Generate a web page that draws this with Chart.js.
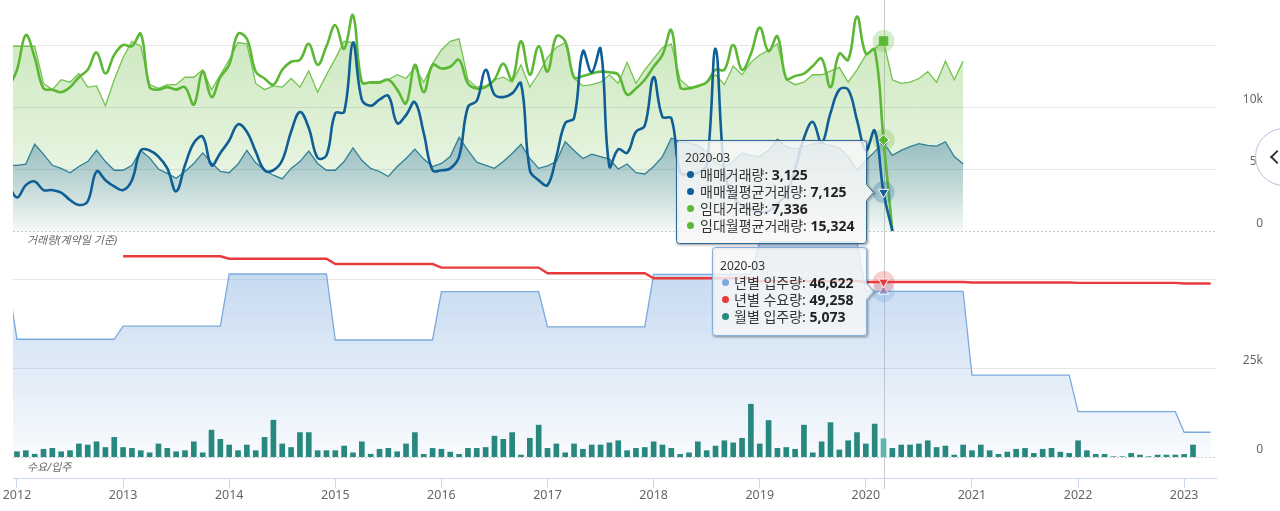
<!DOCTYPE html>
<html lang="ko">
<head>
<meta charset="utf-8">
<title>거래량 · 수요/입주</title>
<script src="https://cdn.jsdelivr.net/npm/chart.js@4.4.1/dist/chart.umd.min.js"></script>
<style>
html,body{margin:0;padding:0;background:#fff;}
body{width:1280px;height:511px;overflow:hidden;font-family:"Noto Sans","Noto Sans CJK KR",sans-serif;}
#wrap{position:relative;width:1280px;height:511px;overflow:hidden;}
#chart{position:absolute;left:0;top:0;}
.pane-title{position:absolute;left:27px;font-size:11px;font-style:italic;color:#666;line-height:14px;white-space:nowrap;}
#tipLayer{position:absolute;left:0;top:0;pointer-events:none;}
#tipText{position:absolute;left:0;top:0;}
.tip-line{position:absolute;white-space:nowrap;color:#333;font-size:14px;line-height:17px;height:17px;}
.tip-line.head{font-size:12px;}
.tip-line b{font-weight:700;color:#222;}
.dot{position:absolute;width:7px;height:7px;border-radius:50%;}
.nav-btn{position:absolute;left:1255px;top:128px;width:58px;height:58px;box-sizing:border-box;border:1px solid #b9c0dc;border-radius:50%;background:#fff;}
.nav-btn::before{content:"";position:absolute;left:16px;top:23px;width:10px;height:10px;box-sizing:border-box;border-left:2px solid #333;border-bottom:2px solid #333;transform:rotate(45deg);}
</style>
</head>
<body>
<div id="wrap">
  <canvas id="chart" width="1280" height="511"></canvas>
  <div class="pane-title" style="top:233px">거래량(계약일 기준)</div>
  <div class="pane-title" style="top:460px">수요/입주</div>
  <svg id="tipLayer" width="1280" height="511" xmlns="http://www.w3.org/2000/svg"></svg>
  <div id="tipText"></div>
  <div class="nav-btn"></div>
</div>
<script>
// x values are month indexes: 0 = 2012-01, -1 = 2011-12
const yearLabels = ['2012','2013','2014','2015','2016','2017','2018','2019','2020','2021','2022','2023'];
const HOVER_X = 98; // 2020-03

// 매매거래량, 2011-12 .. 2020-04
const saleVolume = [3800,
  2700,3700,4000,3300,3300,3100,2500,2100,2400,4800,4100,3600,
  3300,4100,6500,6500,6000,5050,3200,5300,7100,7600,5300,6300,
  7300,8600,8000,6400,4900,4900,5700,8000,9600,8300,5900,6100,
  9500,9600,15200,10600,10100,10600,10900,8700,9350,10400,7900,4900,
  4900,5050,6000,10000,10500,13000,11000,10800,11100,11900,4900,4100,
  3700,6000,8700,9100,14500,12800,14700,5200,6600,6300,8000,8500,
  12400,9200,9100,4700,4600,4700,5300,14700,4800,2800,2000,1800,
  1500,1600,2200,3000,5000,7500,8800,7100,9500,11400,11400,8950,
  6500,8100,3125,0];

// 매매월평균거래량, 2011-12 .. 2020-12
const saleMonthlyAvg = [5300,
  5300,5400,7000,6200,5300,5050,4700,5200,5600,6500,5600,4900,
  4900,5300,6500,5900,5000,4650,4250,4800,5450,6300,5500,4800,
  4700,5400,6500,5500,4900,4500,4200,5050,5600,6450,5450,4900,
  4900,5600,6700,5700,5050,4800,4400,5200,5850,6600,5800,5200,
  5450,6000,7550,6500,5550,5300,5050,5600,6250,7000,5850,5050,
  5250,5600,7200,6500,5850,6200,6000,5800,5000,5400,4700,4600,
  5200,6000,7500,7200,7100,6900,6400,5500,5200,5600,6300,6100,
  6000,6500,7400,6800,6600,6800,7000,7100,6900,6700,6000,4900,
  5700,6400,7125,6100,6500,6800,7050,6900,6850,7200,6000,5400];

// 임대거래량, 2011-12 .. 2020-04
const rentVolume = [11500,
  13000,15800,14000,11500,11400,11200,11600,12400,13000,14400,12700,14200,
  15000,14900,15900,11600,11400,11600,11400,11600,10200,12850,10800,12400,
  13400,15900,15500,12850,12300,11800,13000,13650,13800,15100,13400,14900,
  16600,14700,17400,12000,12000,12000,12200,11400,10300,13400,11200,13400,
  13100,13250,13800,11900,11500,11600,12200,13500,12200,15300,12600,14900,
  12850,15700,15300,12400,12500,12700,12850,12800,12600,11000,11500,12200,
  13250,14200,16200,11600,11500,11700,12000,13000,13000,15000,13000,14300,
  16400,14500,15700,12300,12500,12700,13300,13900,11600,14300,13800,17300,
  14300,14650,7336,0];

// 임대월평균거래량, 2011-12 .. 2020-12
const rentMonthlyAvg = [14900,
  14900,14900,14900,11900,11400,12200,12000,12700,11600,11700,10100,12200,
  14000,15300,14900,11800,11500,11800,11800,12400,12400,13000,11400,12600,
  13800,15200,15100,11900,11400,11700,11600,12300,11600,12900,11200,12600,
  13900,15300,15200,12000,11900,11900,12200,12600,12300,13200,12000,13500,
  14600,15300,15500,12200,11600,11700,12200,12400,12000,13400,11600,12700,
  14000,14800,15200,12300,11700,11800,12000,12600,11900,13600,11900,13000,
  13900,14800,15100,12200,11600,11600,12000,12600,11800,13300,12600,13600,
  14200,14600,15100,12200,11800,12000,12600,12600,12900,13200,12000,13000,
  14200,14700,15324,12200,11900,12000,12300,12850,12000,13700,12200,13700];

// 년별 입주량 (2011 .. 2023)
const supplyYears = [2011,2012,2013,2014,2015,2016,2017,2018,2019,2020,2021,2022,2023];
const supplyYearly = [49400,33100,36800,51500,32900,46500,36600,51400,60600,46622,23000,12700,6900];

// 년별 수요량 (2013 .. 2023)
const demandYears = [2013,2014,2015,2016,2017,2018,2019,2020,2021,2022,2023];
const demandYearly = [56500,55800,54300,53300,51700,50300,49500,49258,49100,49000,48800];

// 월별 입주량, 2012-01 .. 2023-02
const supplyMonthly = [
  1400,1700,700,2100,2350,1400,1700,3600,3300,4200,2600,5450,
  2600,2350,1700,1100,3600,2350,1400,1700,4200,1100,7500,4900,
  3300,1700,3300,1700,5450,10300,3600,2600,6800,6800,1700,1700,
  1700,3000,1100,4200,700,2100,2350,1400,3600,6800,660,2350,
  2100,1300,660,2350,2350,2600,5800,4900,6800,470,5200,8900,
  2350,3600,1100,3600,2100,3300,3300,3900,4500,1700,2350,2600,
  4200,3300,2350,660,1100,4200,1700,3000,4500,3900,5200,14800,
  3600,10200,2350,2600,2100,8900,1100,4200,9600,1900,4500,6800,
  3600,9200,5073,2350,3300,3300,3600,4500,2600,3000,470,3300,
  1700,3300,1700,660,1300,2100,2350,940,2100,2350,1300,940,
  4500,1700,660,660,0,0,940,470,0,470,470,470,
  660,3300];

const topTicks = [0, 5000, 10000, 15000];
const topTickLabels = ['0', '5k', '10k', ''];
const bottomTicks = [0, 25000, 50000];
const bottomTickLabels = ['0', '25k', ''];

// ---- layout of the two panes (both value axes span the full plot height) ----
const TOP_RANGE = { min: -19920, max: 18630 };
const BOTTOM_RANGE = { min: -6000, max: 128720 };
// express a lower-pane value in upper-axis units (same pixel row)
const toTopUnits = (v) => TOP_RANGE.min +
  (v - BOTTOM_RANGE.min) / (BOTTOM_RANGE.max - BOTTOM_RANGE.min) * (TOP_RANGE.max - TOP_RANGE.min);
const axisTickValues = topTicks.concat(bottomTicks.map(toTopUnits));
const axisTickLabels = topTickLabels.concat(bottomTickLabels);
const zeroTickValues = [0, toTopUnits(0)];

// ---- helpers ----
const FONT = '"Noto Sans","Noto Sans CJK KR",sans-serif';
Chart.defaults.font.family = FONT;

const pts = (values, start) => values.map((v, k) => ({ x: start + k, y: v }));
function yearlyToMonthly(years, values, from, to) {
  const out = [];
  for (let i = from; i <= to; i++) {
    const yr = 2012 + Math.floor(i / 12);
    out.push({ x: i, y: values[years.indexOf(yr)] });
  }
  return out;
}
function monthLabel(i) {
  const y = 2012 + Math.floor(i / 12);
  const m = ((i % 12) + 12) % 12 + 1;
  return y + '-' + String(m).padStart(2, '0');
}
const atHover = (r) => (ctx) => (ctx.raw && ctx.raw.x === HOVER_X ? r : 0);

function vGrad(chart, scaleId, fromVal, toVal, rgb, stops) {
  const s = chart.scales[scaleId];
  if (!chart.chartArea || !s) return 'rgba(' + rgb + ',' + stops[0][1] + ')';
  const g = chart.ctx.createLinearGradient(0, s.getPixelForValue(fromVal), 0, s.getPixelForValue(toVal));
  stops.forEach(([o, a]) => g.addColorStop(o, 'rgba(' + rgb + ',' + a + ')'));
  return g;
}

const C = {
  sale: '#0f5e96',
  saleAvgLine: '#2f8097',
  saleFill: '14,92,148',
  rent: '#5cb834',
  rentAvgLine: '#74c350',
  rentFill: '100,185,60',
  supply: '#7caade',
  supplyFill: '124,170,222',
  demand: '#e93b3b',
  bar: '#27887f',
  barHover: '#5fb6ad'
};

// halo behind the hovered markers
const hoverHalo = {
  id: 'hoverHalo',
  beforeDatasetDraw(chart, args) {
    const ds = chart.data.datasets[args.index];
    if (!ds.haloColor) return;
    const k = ds.data.findIndex(p => p.x === HOVER_X);
    const el = args.meta.data[k];
    if (!el) return;
    const c = chart.ctx;
    c.save();
    c.fillStyle = ds.haloColor;
    c.beginPath();
    c.arc(el.x, el.y, 11, 0, Math.PI * 2);
    c.fill();
    c.restore();
  }
};

// crosshair and dotted zero lines
const guides = {
  id: 'guides',
  beforeDatasetsDraw(chart) {
    const { ctx, chartArea: a } = chart;
    ctx.save();
    ctx.lineWidth = 1;
    ctx.strokeStyle = '#c9c9c9';
    ctx.setLineDash([2, 2]);
    ['yT', 'yB'].forEach(id => {
      const y = Math.round(chart.scales[id].getPixelForValue(0)) + 0.5;
      ctx.beginPath(); ctx.moveTo(a.left, y); ctx.lineTo(a.right, y); ctx.stroke();
    });
    ctx.setLineDash([]);
    const x = Math.round(chart.scales.x.getPixelForValue(HOVER_X)) + 0.5;
    ctx.strokeStyle = '#cccccc';
    ctx.beginPath(); ctx.moveTo(x, a.top); ctx.lineTo(x, a.bottom + 11); ctx.stroke();
    ctx.restore();
  }
};

// value-axis labels, right aligned, sitting just above their grid lines
const paneLabels = {
  id: 'paneLabels',
  afterDraw(chart) {
    const s = chart.scales.yT;
    const ctx = chart.ctx;
    ctx.save();
    ctx.font = '12px ' + FONT;
    ctx.fillStyle = '#666';
    ctx.textAlign = 'right';
    ctx.textBaseline = 'middle';
    s.ticks.forEach((t, i) => {
      const label = axisTickLabels[i];
      if (!label) return;
      ctx.fillText(label, chart.chartArea.right + 47, s.getPixelForValue(t.value) - 7);
    });
    ctx.restore();
  }
};

const gridColor = (ctx) => (ctx.tick && zeroTickValues.includes(ctx.tick.value) ? 'rgba(0,0,0,0)' : '#e6e6e6');

const chart = new Chart(document.getElementById('chart'), {
  type: 'line',
  data: {
    datasets: [
      {
        label: '매매거래량', data: pts(saleVolume, -1), yAxisID: 'yT', xAxisID: 'x',
        borderColor: C.sale, borderWidth: 2.6, tension: 0.4, fill: false,
        pointRadius: atHover(5.8), pointStyle: 'triangle', pointRotation: 180,
        pointBackgroundColor: C.sale, pointBorderColor: '#fff', pointBorderWidth: 1,
        haloColor: 'rgba(15,94,150,0.25)', order: 1
      },
      {
        label: '임대거래량', data: pts(rentVolume, -1), yAxisID: 'yT', xAxisID: 'x',
        borderColor: C.rent, borderWidth: 2.6, tension: 0.4, fill: false,
        pointRadius: atHover(5.4), pointStyle: 'rectRot',
        pointBackgroundColor: C.rent, pointBorderColor: '#fff', pointBorderWidth: 1,
        haloColor: 'rgba(92,184,52,0.25)', order: 2
      },
      {
        label: '매매월평균거래량', data: pts(saleMonthlyAvg, -1), yAxisID: 'yT', xAxisID: 'x',
        borderColor: C.saleAvgLine, borderWidth: 1.3, tension: 0,
        fill: { value: 0 },
        backgroundColor: (ctx) => vGrad(ctx.chart, 'yT', 7600, 0, C.saleFill, [[0, 0.36], [0.5, 0.2], [1, 0.02]]),
        pointRadius: atHover(4), pointStyle: 'circle',
        pointBackgroundColor: C.sale, pointBorderColor: '#fff', pointBorderWidth: 1,
        order: 3
      },
      {
        label: '임대월평균거래량', data: pts(rentMonthlyAvg, -1), yAxisID: 'yT', xAxisID: 'x',
        borderColor: C.rentAvgLine, borderWidth: 1.3, tension: 0,
        fill: { value: 0 },
        backgroundColor: (ctx) => vGrad(ctx.chart, 'yT', 18630, 0, C.rentFill, [[0, 0.36], [0.6, 0.2], [1, 0.04]]),
        pointRadius: atHover(6), pointStyle: 'rect',
        pointBackgroundColor: C.rent, pointBorderColor: C.rent, pointBorderWidth: 1,
        haloColor: 'rgba(92,184,52,0.25)', order: 4
      },
      {
        label: '년별 수요량', data: yearlyToMonthly(demandYears, demandYearly, 12, 135), yAxisID: 'yB', xAxisID: 'x',
        borderColor: C.demand, borderWidth: 2.4, tension: 0, fill: false,
        pointRadius: atHover(5.8), pointStyle: 'triangle', pointRotation: 180,
        pointBackgroundColor: C.demand, pointBorderColor: '#fff', pointBorderWidth: 1,
        haloColor: 'rgba(233,59,59,0.25)', order: 5
      },
      {
        type: 'bar', label: '월별 입주량', data: pts(supplyMonthly, 0), yAxisID: 'yB', xAxisID: 'x',
        backgroundColor: (ctx) => (ctx.raw && ctx.raw.x === HOVER_X ? C.barHover : C.bar),
        barThickness: 5, borderWidth: 0, order: 6
      },
      {
        label: '년별 입주량', data: yearlyToMonthly(supplyYears, supplyYearly, -1, 135), yAxisID: 'yB', xAxisID: 'x',
        borderColor: C.supply, borderWidth: 1.3, tension: 0,
        fill: { value: 0 },
        backgroundColor: (ctx) => vGrad(ctx.chart, 'yB', 61000, 0, C.supplyFill, [[0, 0.5], [1, 0.05]]),
        pointRadius: atHover(5.8), pointStyle: 'triangle',
        pointBackgroundColor: C.supply, pointBorderColor: '#fff', pointBorderWidth: 1,
        haloColor: 'rgba(124,170,222,0.3)', order: 7
      }
    ]
  },
  options: {
    responsive: false,
    animation: false,
    devicePixelRatio: 1,
    events: [],
    layout: { padding: { left: 13, right: 0, top: 0, bottom: 0 }, autoPadding: false },
    plugins: { legend: { display: false }, tooltip: { enabled: false } },
    scales: {
      x: {
        type: 'linear', position: 'bottom', min: -0.45, max: 135.6, offset: false, bounds: 'data',
        afterBuildTicks: (s) => { s.ticks = yearLabels.map((_, k) => ({ value: k * 12 })); },
        afterFit: (s) => { s.height = 33; s.paddingLeft = 0; s.paddingRight = 0; },
        grid: { display: true, drawOnChartArea: false, drawTicks: true, tickLength: 10, tickColor: '#ccd6eb', offset: false },
        border: { display: true, color: '#ccd6eb', width: 1 },
        ticks: {
          autoSkip: false, maxRotation: 0, minRotation: 0, padding: 0, color: '#666',
          font: { size: 12.5 },
          callback: (v, i) => yearLabels[i]
        }
      },
      yT: {
        type: 'linear', position: 'right', min: TOP_RANGE.min, max: TOP_RANGE.max, bounds: 'data',
        afterBuildTicks: (s) => { s.ticks = axisTickValues.map(v => ({ value: v })); },
        afterFit: (s) => { s.width = 64; s.paddingTop = 0; s.paddingBottom = 0; },
        grid: { color: gridColor, drawTicks: false },
        border: { display: false },
        ticks: { display: false }
      },
      yB: {
        type: 'linear', position: 'right', min: BOTTOM_RANGE.min, max: BOTTOM_RANGE.max, bounds: 'data',
        display: false
      }
    }
  },
  plugins: [guides, hoverHalo, paneLabels]
});

// ---- hover tooltips (callout boxes with text) ----
function valueAt(label) {
  const ds = chart.data.datasets.find(d => d.label === label);
  return ds.data.find(p => p.x === HOVER_X).y;
}
function calloutPath(l, t, w, h, ny) {
  const r = 3, R = l + w, B = t + h;
  return 'M' + (l + r) + ',' + t + ' H' + (R - r) + ' Q' + R + ',' + t + ' ' + R + ',' + (t + r) +
    ' V' + (ny - 8) + ' L' + (R + 7) + ',' + ny + ' L' + R + ',' + (ny + 8) +
    ' V' + (B - r) + ' Q' + R + ',' + B + ' ' + (R - r) + ',' + B +
    ' H' + (l + r) + ' Q' + l + ',' + B + ' ' + l + ',' + (B - r) +
    ' V' + (t + r) + ' Q' + l + ',' + t + ' ' + (l + r) + ',' + t + ' Z';
}
function buildTip(cfg) {
  const svg = document.getElementById('tipLayer');
  const layer = document.getElementById('tipText');
  const l = Math.round(cfg.left) + 0.5, t = Math.round(cfg.top) + 0.5;
  const ny = Math.round(cfg.notchY) + 0.5;
  const d = calloutPath(l, t, cfg.width, cfg.height, ny);
  const ns = 'http://www.w3.org/2000/svg';
  [[5, 0.05], [3, 0.1], [1, 0.15]].forEach(([w, a]) => {
    const p = document.createElementNS(ns, 'path');
    p.setAttribute('d', d);
    p.setAttribute('fill', 'none');
    p.setAttribute('stroke', 'rgba(0,0,0,' + a + ')');
    p.setAttribute('stroke-width', w);
    p.setAttribute('transform', 'translate(1,1)');
    svg.appendChild(p);
  });
  const main = document.createElementNS(ns, 'path');
  main.setAttribute('d', d);
  main.setAttribute('fill', 'rgba(247,247,247,0.82)');
  main.setAttribute('stroke', cfg.border);
  main.setAttribute('stroke-width', 1);
  svg.appendChild(main);

  const head = document.createElement('div');
  head.className = 'tip-line head';
  head.style.left = (cfg.left + cfg.headX) + 'px';
  head.style.top = (cfg.top + cfg.headY - 8.5) + 'px';
  head.textContent = cfg.header;
  layer.appendChild(head);

  cfg.rows.forEach((row, r) => {
    const cy = cfg.top + cfg.rowY + r * 17;
    const dot = document.createElement('span');
    dot.className = 'dot';
    dot.style.background = row.color;
    dot.style.left = (cfg.left + cfg.dotX - 3.5) + 'px';
    dot.style.top = (cy - 3.5) + 'px';
    layer.appendChild(dot);
    const line = document.createElement('div');
    line.className = 'tip-line';
    line.style.left = (cfg.left + cfg.textX) + 'px';
    line.style.top = (cy - 8.5) + 'px';
    line.appendChild(document.createTextNode(row.name + ': '));
    const b = document.createElement('b');
    b.textContent = row.value.toLocaleString('en-US');
    line.appendChild(b);
    layer.appendChild(line);
  });
}

const px = chart.scales.x.getPixelForValue(HOVER_X);
const header = monthLabel(HOVER_X);

const topNotch = chart.scales.yT.getPixelForValue(valueAt('매매거래량'));
buildTip({
  left: px - 17.5 - 190, top: topNotch - 52, width: 190, height: 103, notchY: topNotch,
  border: '#2b6a9a', header, headX: 9, headY: 17, rowY: 34, dotX: 14, textX: 24,
  rows: [
    { name: '매매거래량', value: valueAt('매매거래량'), color: C.sale },
    { name: '매매월평균거래량', value: valueAt('매매월평균거래량'), color: C.sale },
    { name: '임대거래량', value: valueAt('임대거래량'), color: C.rent },
    { name: '임대월평균거래량', value: valueAt('임대월평균거래량'), color: C.rent }
  ]
});

const botNotch = chart.scales.yB.getPixelForValue(valueAt('년별 입주량'));
buildTip({
  left: px - 17.5 - 154, top: botNotch - 44, width: 154, height: 88, notchY: botNotch,
  border: '#86afdc', header, headX: 8, headY: 18, rowY: 35, dotX: 13, textX: 22,
  rows: [
    { name: '년별 입주량', value: valueAt('년별 입주량'), color: C.supply },
    { name: '년별 수요량', value: valueAt('년별 수요량'), color: C.demand },
    { name: '월별 입주량', value: valueAt('월별 입주량'), color: C.bar }
  ]
});
</script>
</body>
</html>
